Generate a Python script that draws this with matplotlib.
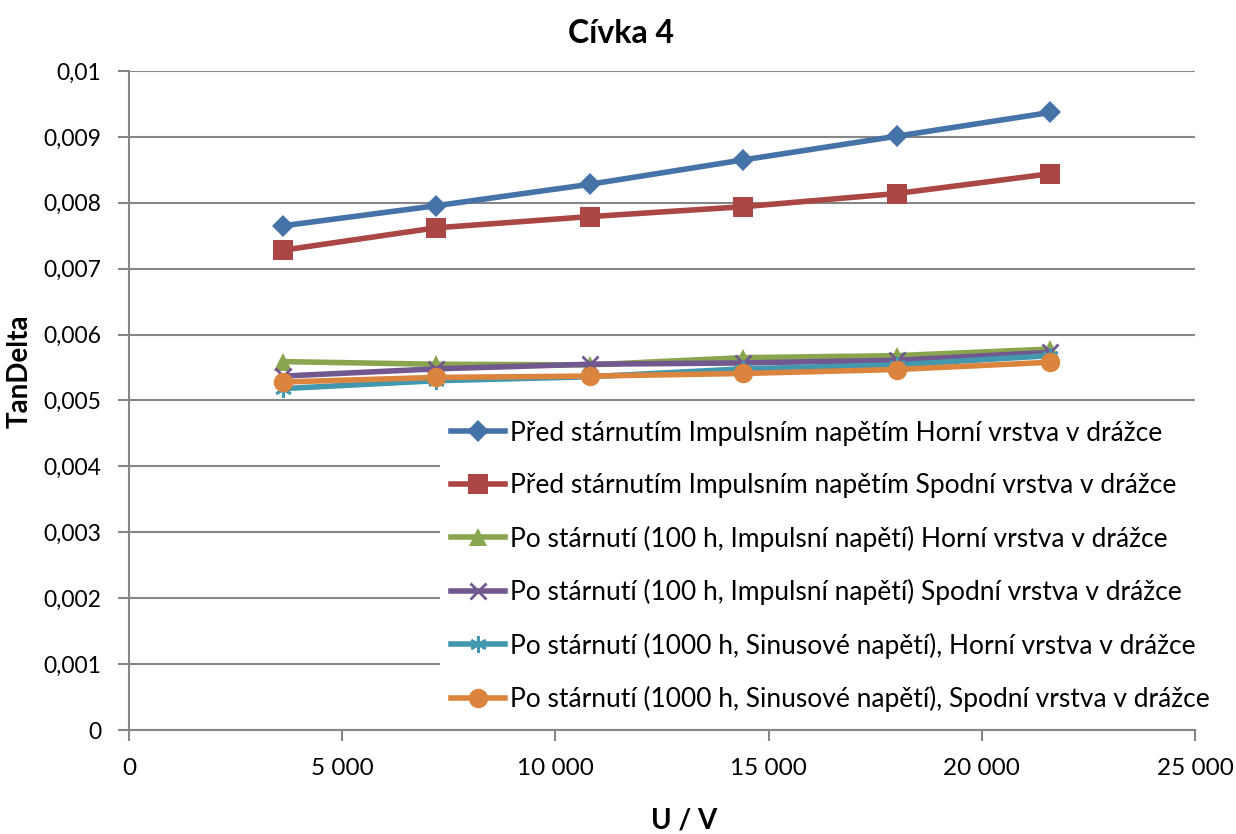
import matplotlib.pyplot as plt
from matplotlib.ticker import FuncFormatter, MultipleLocator

plt.rcParams['font.family'] = ['Lato', 'DejaVu Sans']

# napeti a ztratovy cinitel, civka 4
napeti = [3600, 7200, 10800, 14400, 18000, 21600]

pred_horni = [0.00765, 0.007955, 0.00828, 0.00865, 0.00901, 0.00937]
pred_spodni = [0.00728, 0.00762, 0.00779, 0.00794, 0.00814, 0.00844]
po100_horni = [0.00559, 0.00555, 0.00554, 0.00565, 0.00568, 0.00578]
po100_spodni = [0.00537, 0.00548, 0.00555, 0.00557, 0.00561, 0.00573]
po1000_horni = [0.00518, 0.00530, 0.00536, 0.00548, 0.00554, 0.00568]
po1000_spodni = [0.00528, 0.00535, 0.00537, 0.00541, 0.00547, 0.00558]

nazvy = [
    'Před stárnutím Impulsním napětím Horní vrstva v drážce',
    'Před stárnutím Impulsním napětím Spodní vrstva v drážce',
    'Po stárnutí (100 h, Impulsní napětí) Horní vrstva v drážce',
    'Po stárnutí (100 h, Impulsní napětí) Spodní vrstva v drážce',
    'Po stárnutí (1000 h, Sinusové napětí), Horní vrstva v drážce',
    'Po stárnutí (1000 h, Sinusové napětí), Spodní vrstva v drážce',
]

rady = [pred_horni, pred_spodni, po100_horni, po100_spodni, po1000_horni, po1000_spodni]
barvy = ['#4572A7', '#AA4643', '#89A54E', '#71588F', '#4198AF', '#DB843D']
znacky = [('D', 11), ('s', 14), ('^', 13), ('x', 11), ('*', 12), ('o', 14)]

fig = plt.figure(figsize=(12.36, 8.34), dpi=100)
ax = fig.add_axes([0.1044, 0.1247, 0.8624, 0.7902])

for y, nazev, c, (m, ms) in zip(rady, nazvy, barvy, znacky):
    kw = dict(markeredgewidth=2) if m in ('x', '*') else dict(markeredgewidth=0)
    if m == '*':
        m = (6, 2, 0)
    ax.plot(napeti, y, color=c, lw=4, marker=m, markersize=ms,
            markerfacecolor=c, markeredgecolor=c, label=nazev, **kw)

ax.set_xlim(0, 25000)
ax.set_ylim(0, 0.01)
ax.xaxis.set_major_locator(MultipleLocator(5000))
ax.yaxis.set_major_locator(MultipleLocator(0.001))
ax.xaxis.set_major_formatter(FuncFormatter(lambda v, p: f"{int(round(v)):,}".replace(',', ' ')))
ax.yaxis.set_major_formatter(FuncFormatter(
    lambda v, p: f"{v:.3f}".rstrip('0').rstrip('.').replace('.', ',')))

ax.grid(axis='y', color='#868686', lw=1.5)
ax.set_axisbelow(True)
for s in ['top', 'right']:
    ax.spines[s].set_visible(False)
for s in ['left', 'bottom']:
    ax.spines[s].set_color('#868686')
    ax.spines[s].set_linewidth(1.5)
ax.tick_params(axis='both', colors='#868686', labelcolor='black', labelsize=16.5,
               length=8, width=1.5)
ax.tick_params(axis='x', labelsize=17.5)
ax.tick_params(axis='y', pad=12)
ax.tick_params(axis='x', pad=12)

ax.set_title('Cívka 4', fontsize=23, fontweight='bold', x=0.4615, pad=20)
ax.set_ylabel('TanDelta', fontsize=20, fontweight='bold')
ax.yaxis.set_label_coords(-0.09, 0.545)
ax.set_xlabel('U / V', fontsize=20, fontweight='bold')
ax.xaxis.set_label_coords(0.521, -0.118)

leg = ax.legend(loc='upper left', bbox_to_anchor=(440 / 1236, 1 - 410 / 834),
                bbox_transform=fig.transFigure, fontsize=19, frameon=True,
                fancybox=False, framealpha=1, edgecolor='none',
                handlelength=2.05, handletextpad=0.22, labelspacing=1.04,
                borderpad=0.4, borderaxespad=0)

fig.savefig('out.png', dpi=100)
